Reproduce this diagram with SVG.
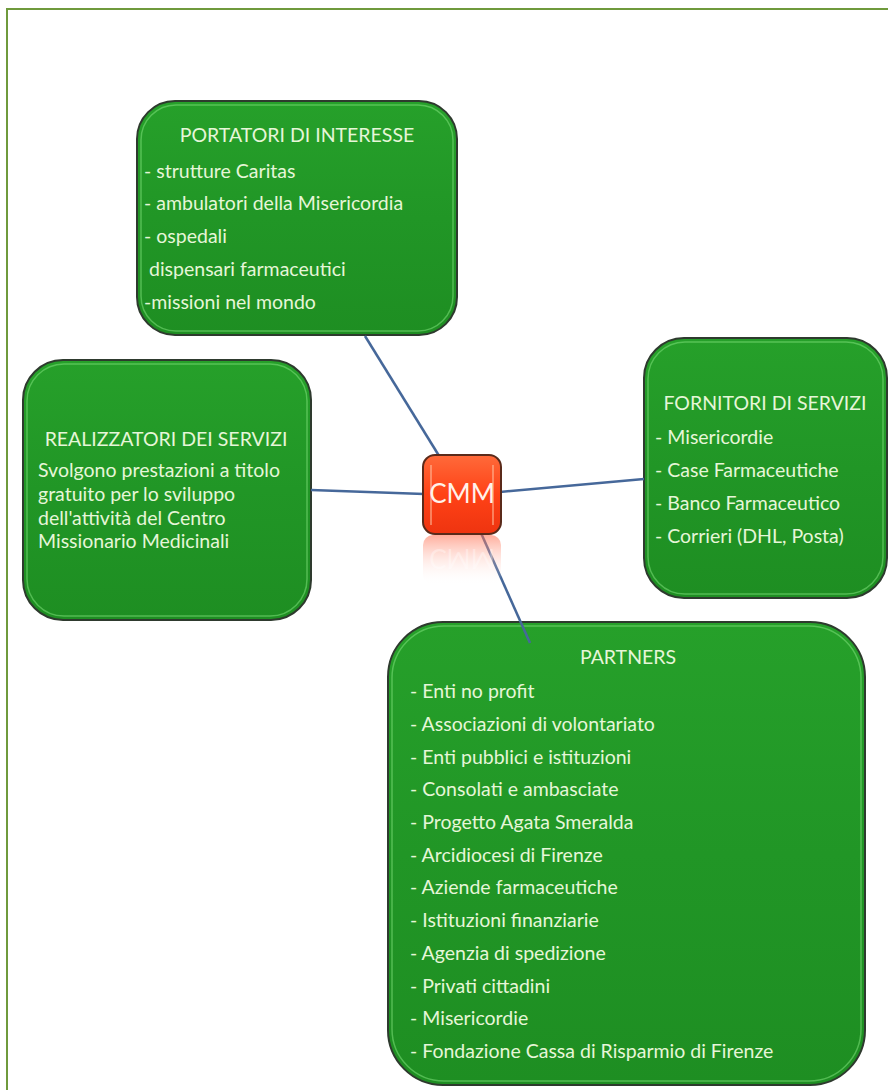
<svg xmlns="http://www.w3.org/2000/svg" width="888" height="1090" viewBox="0 0 888 1090">
<defs>
<linearGradient id="gGreen" x1="0" y1="0" x2="0" y2="1">
<stop offset="0" stop-color="#26a02a"/>
<stop offset="0.5" stop-color="#219626"/>
<stop offset="1" stop-color="#1e8e22"/>
</linearGradient>
<linearGradient id="gRed" x1="0" y1="0" x2="0" y2="1">
<stop offset="0" stop-color="#ff6a3a"/>
<stop offset="0.5" stop-color="#ff4216"/>
<stop offset="1" stop-color="#ee3410"/>
</linearGradient>
<linearGradient id="gRefl" x1="0" y1="0" x2="0" y2="1">
<stop offset="0" stop-color="#ff6a4a" stop-opacity="0.55"/>
<stop offset="1" stop-color="#ffffff" stop-opacity="0"/>
</linearGradient>
</defs>
<style>
.frame{fill:#ffffff;stroke:#6f9a3c;stroke-width:2}
.box{fill:url(#gGreen);stroke:#2e3a2e;stroke-width:2}
.hl{fill:none;stroke:#7ee07a;stroke-width:1.5;stroke-opacity:0.55}
.t{font-family:Lato,"Liberation Sans",sans-serif;fill:#e6f6d8;font-size:19.5px}
.title{text-anchor:middle;font-size:19.5px}
.conn{stroke:#46689a;stroke-width:2.5;fill:none}
.cmm{fill:url(#gRed);stroke:#5a2a1a;stroke-width:2}
</style>
<rect class="frame" x="7" y="9" width="900" height="1100"/>

<g id="portatori">
<rect class="box" x="137" y="101" width="320" height="234" rx="38"/>
<rect class="hl" x="141" y="105" width="312" height="226" rx="35"/>
<text class="t title" x="297" y="142">PORTATORI DI INTERESSE</text>
<text class="t" x="144" y="178">- strutture Caritas</text>
<text class="t" x="144" y="210">- ambulatori della Misericordia</text>
<text class="t" x="144" y="243">- ospedali</text>
<text class="t" x="144" y="276" xml:space="preserve"> dispensari farmaceutici</text>
<text class="t" x="144" y="309">-missioni nel mondo</text>
</g>

<g id="realizzatori">
<rect class="box" x="23" y="360" width="288" height="260" rx="40"/>
<rect class="hl" x="27" y="364" width="280" height="252" rx="37"/>
<text class="t title" x="166" y="446">REALIZZATORI DEI SERVIZI</text>
<text class="t" x="38" y="477">Svolgono prestazioni a titolo</text>
<text class="t" x="38" y="501">gratuito per lo sviluppo</text>
<text class="t" x="38" y="525">dell'attività del Centro</text>
<text class="t" x="38" y="548">Missionario Medicinali</text>
</g>

<g id="fornitori">
<rect class="box" x="644" y="338" width="243" height="260" rx="40"/>
<rect class="hl" x="648" y="342" width="235" height="252" rx="37"/>
<text class="t title" x="765" y="410">FORNITORI DI SERVIZI</text>
<text class="t" x="655" y="444">- Misericordie</text>
<text class="t" x="655" y="477">- Case Farmaceutiche</text>
<text class="t" x="655" y="510">- Banco Farmaceutico</text>
<text class="t" x="655" y="543">- Corrieri (DHL, Posta)</text>
</g>

<g id="partners">
<rect class="box" x="388" y="622" width="477" height="463" rx="55"/>
<rect class="hl" x="392" y="626" width="469" height="455" rx="52"/>
<text class="t title" x="628" y="664">PARTNERS</text>
<text class="t" x="410" y="698">- Enti no profit</text>
<text class="t" x="410" y="731">- Associazioni di volontariato</text>
<text class="t" x="410" y="764">- Enti pubblici e istituzioni</text>
<text class="t" x="410" y="796">- Consolati e ambasciate</text>
<text class="t" x="410" y="829">- Progetto Agata Smeralda</text>
<text class="t" x="410" y="862">- Arcidiocesi di Firenze</text>
<text class="t" x="410" y="894">- Aziende farmaceutiche</text>
<text class="t" x="410" y="927">- Istituzioni finanziarie</text>
<text class="t" x="410" y="960">- Agenzia di spedizione</text>
<text class="t" x="410" y="993">- Privati cittadini</text>
<text class="t" x="410" y="1025">- Misericordie</text>
<text class="t" x="410" y="1058">- Fondazione Cassa di Risparmio di Firenze</text>
</g>

<g id="connectors">
<line class="conn" x1="365" y1="336" x2="441" y2="459"/>
<line class="conn" x1="311" y1="490" x2="424" y2="494"/>
<line class="conn" x1="500" y1="492" x2="644" y2="479"/>
<line class="conn" x1="481" y1="533" x2="530" y2="643"/>
</g>

<g id="cmm">
<rect x="423" y="535" width="78" height="50" rx="10" fill="url(#gRefl)"/>
<text x="462" y="-549" transform="scale(1,-1)" text-anchor="middle" font-family="Lato,'Liberation Sans',sans-serif" font-size="26" fill="#ffffff" fill-opacity="0.35">CMM</text>
<rect class="cmm" x="423" y="455" width="78" height="79" rx="12"/>
<line x1="431" y1="465" x2="431" y2="525" stroke="#ffc0a0" stroke-width="1.5" stroke-opacity="0.7"/>
<line x1="493" y1="465" x2="493" y2="525" stroke="#ffc0a0" stroke-width="1.5" stroke-opacity="0.7"/>
<text x="462" y="503" text-anchor="middle" font-family="Lato,'Liberation Sans',sans-serif" font-size="26" fill="#fff2ea">CMM</text>
</g>
</svg>
